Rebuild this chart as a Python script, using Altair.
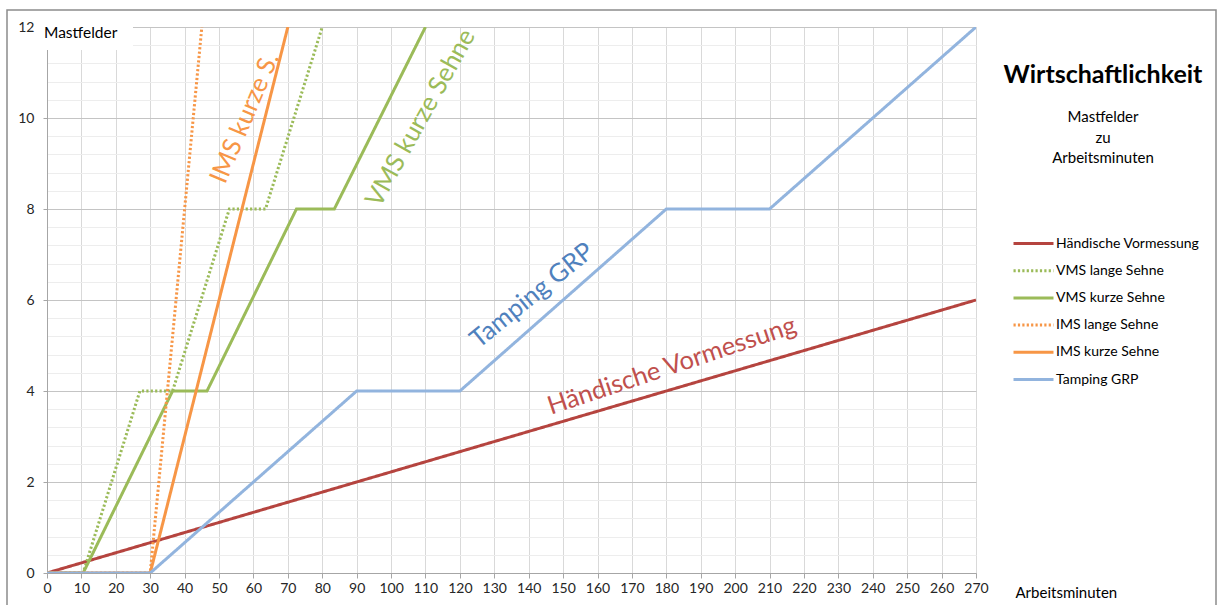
import altair as alt
import pandas as pd

# Series (Arbeitsminuten -> Mastfelder)
series_names = [
    "Händische Vormessung",
    "VMS lange Sehne",
    "VMS kurze Sehne",
    "IMS lange Sehne",
    "IMS kurze Sehne",
    "Tamping GRP",
]
series_colors = ["#B5443F", "#9BBB59", "#9BBB59", "#F79646", "#F79646", "#92B4DE"]
series_dash = [[1, 0], [2.2, 2.2], [1, 0], [2.2, 2.2], [1, 0], [1, 0]]

haendisch_min = [0, 270]
haendisch_mf = [0, 6]
vms_lang_min = [0, 10.5, 27, 36.5, 53, 63.5, 80]
vms_lang_mf = [0, 0, 4, 4, 8, 8, 12]
vms_kurz_min = [0, 10.5, 36.5, 46.5, 72.5, 83.5, 110]
vms_kurz_mf = [0, 0, 4, 4, 8, 8, 12]
ims_lang_min = [0, 30, 45]
ims_lang_mf = [0, 0, 12]
ims_kurz_min = [0, 30, 70]
ims_kurz_mf = [0, 0, 12]
tamping_min = [0, 30, 90, 120, 180, 210, 270]
tamping_mf = [0, 0, 4, 4, 8, 8, 12]

# In-plot labels
note_text = ["IMS kurze S.", "VMS kurze Sehne", "Tamping GRP", "Händische Vormessung"]
note_min = [57.5, 108.6, 141.0, 181.6]
note_mf = [10.0, 10.0, 6.1, 4.55]
note_angle = [293, 299, 321, 341.5]
note_color = ["#F79646", "#9BBB59", "#4F81BD", "#C0504D"]

x_ticks = list(range(0, 271, 10))
y_ticks = [round(i * 0.4, 1) for i in range(31)]

FONT = "Lato"
W, H = 929, 546
LEFT, TOP = 47, 27

rows = []
for name, xs, ys in [
    (series_names[0], haendisch_min, haendisch_mf),
    (series_names[1], vms_lang_min, vms_lang_mf),
    (series_names[2], vms_kurz_min, vms_kurz_mf),
    (series_names[3], ims_lang_min, ims_lang_mf),
    (series_names[4], ims_kurz_min, ims_kurz_mf),
    (series_names[5], tamping_min, tamping_mf),
]:
    for i, (a, b) in enumerate(zip(xs, ys)):
        rows.append({"serie": name, "min": a, "mf": b, "idx": i})
df = pd.DataFrame(rows)

notes = pd.DataFrame({
    "text": note_text, "min": note_min, "mf": note_mf,
    "angle": note_angle, "col": note_color,
})

x_scale = alt.Scale(domain=[0, 270], nice=False, zero=False)
y_scale = alt.Scale(domain=[0, 12], nice=False, zero=False)

x_axis = alt.Axis(
    values=x_ticks, tickCount=len(x_ticks), format="d", title="Arbeitsminuten",
    titleX=968, titleY=19, titleAlign="left", titleBaseline="middle",
    titleFont=FONT, titleFontSize=15, titleFontWeight="normal", titleColor="#000000",
    labelFont=FONT, labelFontSize=14, labelColor="#262626", labelPadding=3,
    gridColor="#d9d9d9", domainColor="#a6a6a6", tickColor="#a6a6a6", tickSize=5,
    labelFlush=False, labelOverlap=False,
)
y_axis = alt.Axis(
    values=y_ticks, tickCount=len(y_ticks), title=None,
    labelExpr="datum.value % 2 === 0 ? format(datum.value, 'd') : ''",
    labelFont=FONT, labelFontSize=14, labelColor="#262626", labelPadding=9,
    gridColor={"condition": {"test": "datum.value % 2 === 0", "value": "#c4c4c4"}, "value": "#ededed"},
    tickOpacity={"condition": {"test": "datum.value % 2 === 0", "value": 1}, "value": 0},
    domainColor="#a6a6a6", tickColor="#a6a6a6", tickSize=4,
    labelFlush=False, labelOverlap=False,
)

lines = alt.Chart(df).mark_line(strokeWidth=3, clip=True).encode(
    x=alt.X("min:Q", scale=x_scale, axis=x_axis),
    y=alt.Y("mf:Q", scale=y_scale, axis=y_axis),
    color=alt.Color(
        "serie:N",
        scale=alt.Scale(domain=series_names, range=series_colors),
        legend=alt.Legend(
            title=None, orient="none", legendX=975, legendY=205,
            symbolType="M-2,0H2", symbolSize=400, symbolStrokeWidth=3,
            labelFont=FONT, labelFontSize=14, labelColor="#000000",
            labelOffset=11, rowPadding=8.2, padding=0,
        ),
    ),
    strokeDash=alt.StrokeDash(
        "serie:N",
        scale=alt.Scale(domain=series_names, range=series_dash),
        legend=alt.Legend(title=None, orient="none", legendX=975, legendY=205),
    ),
    order=alt.Order("idx:Q"),
)

labels = alt.Chart(notes).mark_text(font=FONT, fontSize=25.5, align="center", baseline="middle").encode(
    x=alt.X("min:Q", scale=x_scale),
    y=alt.Y("mf:Q", scale=y_scale),
    text="text:N",
    angle=alt.Angle("angle:Q", scale=None),
    fill=alt.Fill("col:N", scale=None, legend=None),
)

one = pd.DataFrame({"k": [0]})

# White patch behind the y-axis caption
caption_box = alt.Chart(one).mark_rect(fill="white").encode(
    x=alt.value(-7), x2=alt.value(86), y=alt.value(-12), y2=alt.value(23)
)
caption = alt.Chart(one).mark_text(font=FONT, fontSize=15.5, align="left", baseline="middle", color="#000000").encode(
    x=alt.value(-3), y=alt.value(6), text=alt.value("Mastfelder")
)

# Outer frame of the chart
frame = alt.Chart(one).mark_rect(fill=None, stroke="#8c8c8c", strokeWidth=1.5).encode(
    x=alt.value(7 - LEFT), x2=alt.value(1216 - LEFT), y=alt.value(10 - TOP), y2=alt.value(640)
)

title_cx = 1103 - LEFT
title = alt.Chart(one).mark_text(font=FONT, fontSize=25, fontWeight="bold", align="center", baseline="middle", color="#000000").encode(
    x=alt.value(title_cx), y=alt.value(75 - TOP), text=alt.value("Wirtschaftlichkeit")
)
sub_lines = []
for txt, yy in [("Mastfelder", 117), ("zu", 138), ("Arbeitsminuten", 158)]:
    sub_lines.append(
        alt.Chart(one).mark_text(font=FONT, fontSize=15, align="center", baseline="middle", color="#000000").encode(
            x=alt.value(title_cx), y=alt.value(yy - TOP), text=alt.value(txt)
        )
    )

chart = alt.layer(lines, labels, caption_box, caption, frame, title, *sub_lines).properties(
    width=W, height=H,
    autosize=alt.AutoSizeParams(type="none"),
    padding={"left": LEFT, "top": TOP, "right": 1218 - LEFT - W, "bottom": 605 - TOP - H},
    background="white",
).configure_view(strokeWidth=0)

chart.save("out.html", embed_options={"renderer": "svg", "actions": False})
